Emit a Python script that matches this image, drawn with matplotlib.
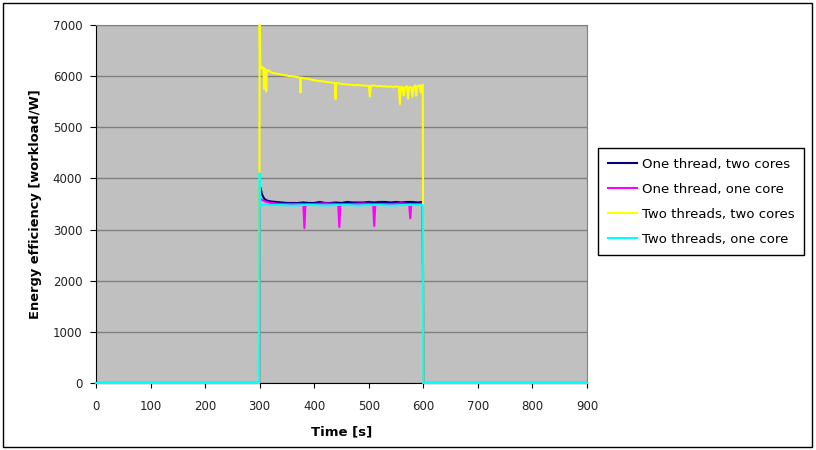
import matplotlib
matplotlib.use("Agg")
import matplotlib.pyplot as plt
from matplotlib.patches import Rectangle

plt.rcParams['font.family'] = ['DejaVu Sans']

# series data: (time [s], energy efficiency [workload/W])
t_1t2c = [0, 299, 300, 302, 304, 306, 308, 310, 313, 316, 320, 330, 340, 350, 360, 370,
          380, 390, 400, 410, 420, 430, 440, 450, 460, 470, 480, 490, 500, 510, 520,
          530, 540, 550, 560, 570, 580, 590, 599, 600, 900]
v_1t2c = [0, 0, 3850, 3800, 3700, 3650, 3610, 3590, 3570, 3560, 3550, 3540, 3530, 3520,
          3520, 3520, 3530, 3520, 3520, 3540, 3520, 3520, 3530, 3520, 3540, 3530, 3530,
          3530, 3540, 3530, 3540, 3540, 3530, 3540, 3530, 3540, 3540, 3530, 3540, 0, 0]

t_1t1c = [0, 299, 300, 305, 310, 320, 340, 360, 380, 382, 384, 400, 420, 444, 446, 448,
          470, 490, 508, 510, 512, 540, 560, 574, 576, 578, 590, 599, 600, 900]
v_1t1c = [0, 0, 3600, 3580, 3550, 3520, 3500, 3500, 3500, 3030, 3500, 3500, 3510, 3500,
          3050, 3500, 3500, 3510, 3500, 3070, 3500, 3500, 3510, 3500, 3220, 3500, 3500,
          3510, 0, 0]

t_2t2c = [0, 299, 300, 301, 303, 305, 307, 308, 309, 311, 312, 313, 316, 320, 325, 330,
          335, 340, 345, 350, 355, 360, 365, 370, 374, 375, 376, 380, 385, 390, 395, 400,
          405, 410, 415, 420, 425, 430, 435, 438, 439, 440, 445, 450, 455, 460, 465, 470,
          475, 480, 485, 490, 495, 500, 502, 504, 510, 515, 520, 525, 530, 535, 540, 545,
          550, 555, 557, 559, 562, 564, 566, 570, 572, 574, 578, 580, 582, 585, 587, 589,
          593, 595, 597, 599, 600, 900]
v_2t2c = [0, 0, 7000, 6200, 6150, 6180, 6120, 5750, 6150, 6120, 5700, 6100, 6120, 6080,
          6060, 6050, 6040, 6030, 6020, 6010, 6000, 6000, 5990, 5980, 5970, 5680, 5970,
          5960, 5950, 5950, 5930, 5920, 5910, 5900, 5900, 5890, 5880, 5880, 5870, 5860,
          5550, 5860, 5860, 5850, 5840, 5840, 5830, 5830, 5820, 5830, 5820, 5820, 5810,
          5810, 5600, 5810, 5820, 5800, 5810, 5800, 5800, 5790, 5800, 5780, 5800, 5790,
          5450, 5790, 5780, 5620, 5780, 5800, 5560, 5790, 5780, 5600, 5780, 5820, 5620,
          5800, 5820, 5680, 5820, 5830, 0, 0]

t_2t1c = [0, 299, 300, 301, 305, 310, 320, 340, 360, 380, 400, 420, 440, 460, 480, 500,
          520, 540, 560, 580, 599, 600, 900]
v_2t1c = [0, 0, 4100, 3500, 3470, 3490, 3480, 3480, 3470, 3480, 3480, 3470, 3480, 3480,
          3470, 3480, 3480, 3470, 3480, 3480, 3480, 0, 0]

labels = ["One thread, two cores", "One thread, one core",
          "Two threads, two cores", "Two threads, one core"]
colors = ["#000080", "#FF00FF", "#FFFF00", "#00FFFF"]

fig = plt.figure(figsize=(8.16, 4.5), dpi=100)
ax = fig.add_axes([96 / 816, 1 - 383 / 450, 491 / 816, 358 / 450])
ax.set_facecolor("#C0C0C0")

series = [(t_1t2c, v_1t2c), (t_1t1c, v_1t1c), (t_2t2c, v_2t2c), (t_2t1c, v_2t1c)]
for (t, v), lab, c in zip(series, labels, colors):
    ax.plot(t, v, color=c, lw=1.5, label=lab, clip_on=False, zorder=3)

ax.set_xlim(0, 900)
ax.set_ylim(0, 7000)
ax.set_xticks(range(0, 901, 100))
ax.set_yticks(range(0, 7001, 1000))
ax.yaxis.grid(True, color="#808080", lw=1)
ax.set_axisbelow(True)
ax.tick_params(direction="out", labelsize=8.5, colors="black", labelcolor="#222222")
ax.tick_params(axis="x", length=3.5, pad=9)
ax.tick_params(axis="y", length=4.3, pad=5.5)
for s in ["top", "right"]:
    ax.spines[s].set_color("#808080")
for s in ["left", "bottom"]:
    ax.spines[s].set_color("black")

ax.set_xlabel("Time [s]", fontsize=9.5, fontweight="bold", labelpad=9)
ax.set_ylabel("Energy efficiency [workload/W]", fontsize=9.4, fontweight="bold", labelpad=8)

leg = fig.legend(loc="upper left", bbox_to_anchor=(598 / 816, 1 - 148 / 450),
                 fontsize=9.5, frameon=True, fancybox=False, edgecolor="black",
                 framealpha=1, labelspacing=0.9, handlelength=2.2, handletextpad=0.35,
                 borderpad=0.75, borderaxespad=0)
leg.get_frame().set_linewidth(1)

fig.patches.append(Rectangle((3 / 816, 3 / 450), 809 / 816, 444 / 450,
                             transform=fig.transFigure, fill=False, edgecolor="black",
                             lw=1))

fig.savefig("out.png", dpi=100)
